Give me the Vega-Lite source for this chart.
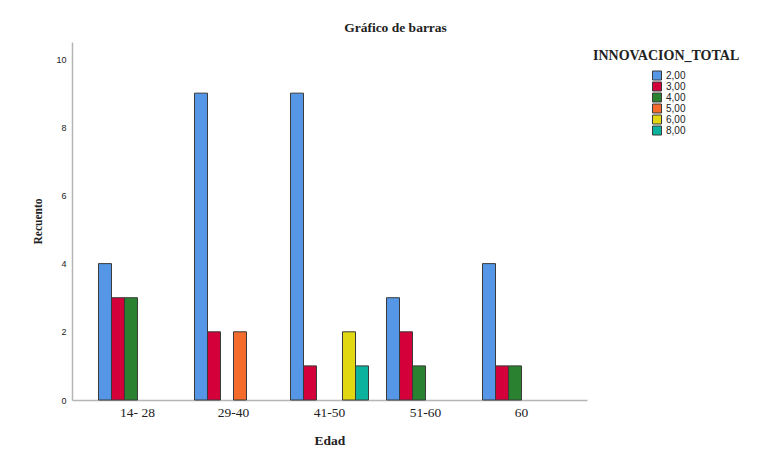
{
  "$schema": "https://vega.github.io/schema/vega-lite/v6.json",
  "autosize": {"type": "none"},
  "padding": {"left": 72, "top": 42, "right": 189, "bottom": 63},
  "width": 515,
  "height": 358,
  "background": "white",
  "title": {
    "text": "Gráfico de barras",
    "font": "Liberation Serif",
    "fontSize": 13.5,
    "fontWeight": "bold",
    "color": "#222",
    "anchor": "middle",
    "dx": 66,
    "offset": 8
  },
  "data": {
    "values": [
      {"Edad": "14- 28", "INNOVACION_TOTAL": "2,00", "Recuento": 4},
      {"Edad": "14- 28", "INNOVACION_TOTAL": "3,00", "Recuento": 3},
      {"Edad": "14- 28", "INNOVACION_TOTAL": "4,00", "Recuento": 3},
      {"Edad": "29-40", "INNOVACION_TOTAL": "2,00", "Recuento": 9},
      {"Edad": "29-40", "INNOVACION_TOTAL": "3,00", "Recuento": 2},
      {"Edad": "29-40", "INNOVACION_TOTAL": "5,00", "Recuento": 2},
      {"Edad": "41-50", "INNOVACION_TOTAL": "2,00", "Recuento": 9},
      {"Edad": "41-50", "INNOVACION_TOTAL": "3,00", "Recuento": 1},
      {"Edad": "41-50", "INNOVACION_TOTAL": "6,00", "Recuento": 2},
      {"Edad": "41-50", "INNOVACION_TOTAL": "8,00", "Recuento": 1},
      {"Edad": "51-60", "INNOVACION_TOTAL": "2,00", "Recuento": 3},
      {"Edad": "51-60", "INNOVACION_TOTAL": "3,00", "Recuento": 2},
      {"Edad": "51-60", "INNOVACION_TOTAL": "4,00", "Recuento": 1},
      {"Edad": "60", "INNOVACION_TOTAL": "2,00", "Recuento": 4},
      {"Edad": "60", "INNOVACION_TOTAL": "3,00", "Recuento": 1},
      {"Edad": "60", "INNOVACION_TOTAL": "4,00", "Recuento": 1}
    ]
  },
  "mark": {"type": "bar", "stroke": "#3a3a3a", "strokeWidth": 1},
  "encoding": {
    "x": {
      "field": "Edad",
      "type": "nominal",
      "sort": ["14- 28", "29-40", "41-50", "51-60", "60"],
      "scale": {"paddingInner": 0.1875, "paddingOuter": 0.276},
      "axis": {
        "title": "Edad",
        "labelAngle": 0,
        "ticks": false,
        "labelPadding": 5,
        "labelFont": "Liberation Serif",
        "labelFontSize": 13.5,
        "labelColor": "#222",
        "titleFont": "Liberation Serif",
        "titleFontSize": 13.5,
        "titleFontWeight": "bold",
        "titleColor": "#222",
        "titlePadding": 15,
        "domainColor": "#b5b5b5",
        "domainWidth": 1.5
      }
    },
    "xOffset": {
      "field": "INNOVACION_TOTAL",
      "type": "nominal",
      "scale": {"domain": ["2,00", "3,00", "4,00", "5,00", "6,00", "8,00"], "paddingInner": 0, "paddingOuter": 0}
    },
    "y": {
      "field": "Recuento",
      "type": "quantitative",
      "scale": {"domain": [0, 10.5], "nice": false},
      "axis": {
        "title": "Recuento",
        "values": [0, 2, 4, 6, 8, 10],
        "grid": false,
        "ticks": false,
        "labelPadding": 6,
        "labelFont": "Liberation Sans",
        "labelFontSize": 9,
        "labelColor": "#222",
        "titleFont": "Liberation Serif",
        "titleFontSize": 11.5,
        "titleFontWeight": "bold",
        "titleColor": "#222",
        "titlePadding": 12,
        "domainColor": "#b5b5b5",
        "domainWidth": 1.5
      }
    },
    "color": {
      "field": "INNOVACION_TOTAL",
      "type": "nominal",
      "scale": {
        "domain": ["2,00", "3,00", "4,00", "5,00", "6,00", "8,00"],
        "range": ["#5596E6", "#D3003A", "#2A8230", "#F46B2B", "#E2D811", "#0CB29E"]
      },
      "legend": {
        "title": "INNOVACION_TOTAL",
        "orient": "none",
        "legendX": 521,
        "legendY": 7,
        "titleFont": "Liberation Serif",
        "titleFontSize": 14,
        "titleFontWeight": "bold",
        "titleColor": "#222",
        "titlePadding": 7,
        "symbolType": "square",
        "symbolSize": 81,
        "symbolStrokeColor": "#3a3a3a",
        "symbolStrokeWidth": 1,
        "symbolOpacity": 1,
        "symbolOffset": 59,
        "labelOffset": 4,
        "labelFont": "Liberation Sans",
        "labelFontSize": 10,
        "labelColor": "#222",
        "rowPadding": 0,
        "clipHeight": 11
      }
    }
  },
  "config": {"view": {"stroke": null}}
}
